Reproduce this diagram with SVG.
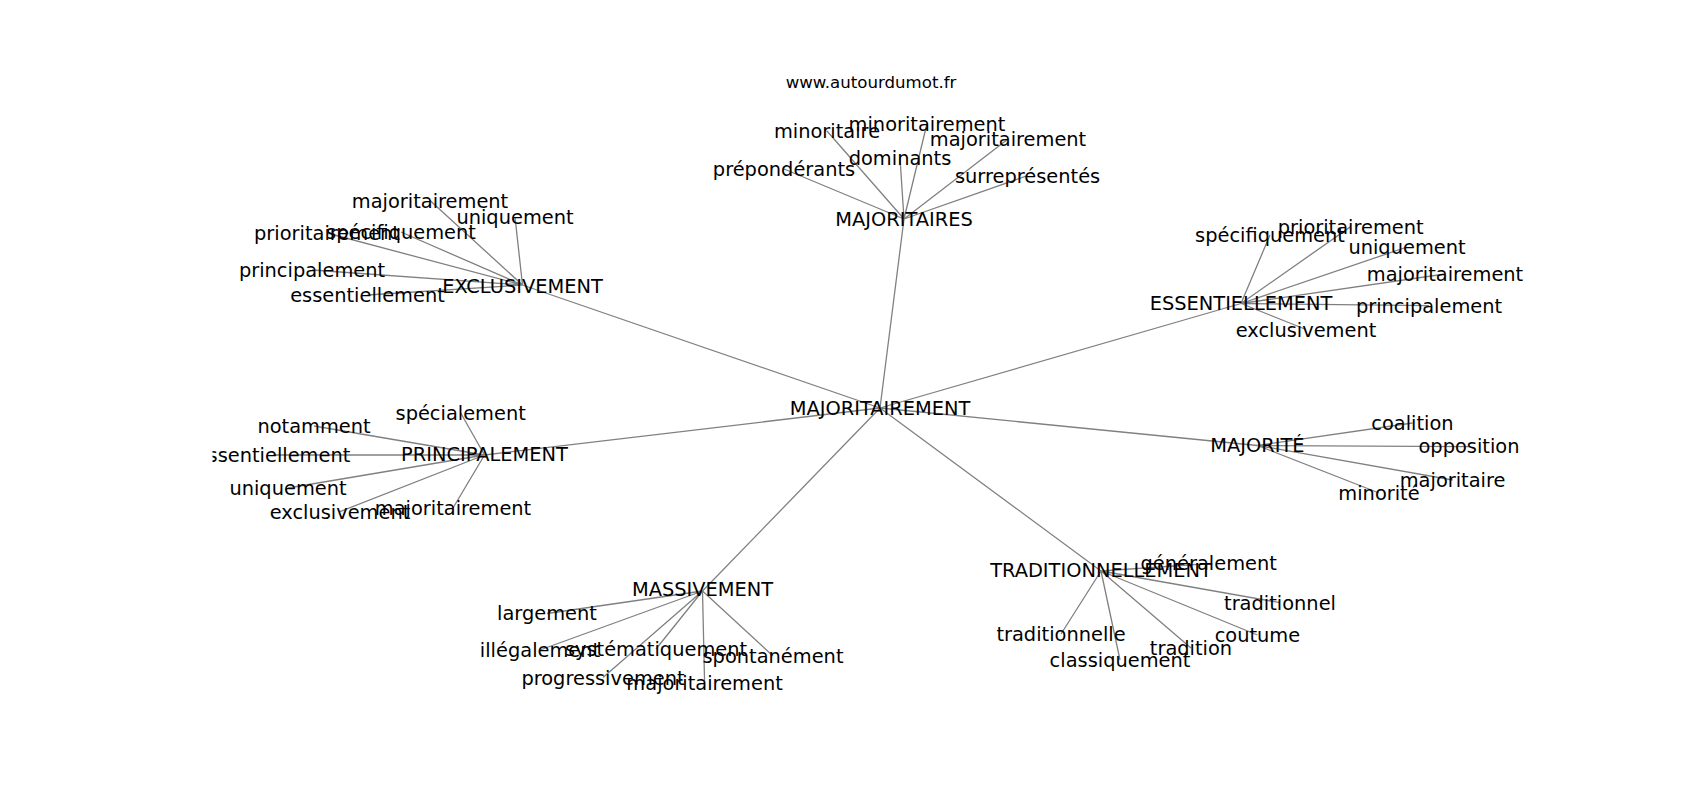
<svg xmlns="http://www.w3.org/2000/svg" width="1700" height="800" viewBox="0 0 1700 800">
<style>
.e{stroke:#808080;stroke-width:1.3;fill:none}
.t{font-family:"DejaVu Sans","Liberation Sans",sans-serif;font-size:19.4px;fill:#000;text-anchor:middle}
.h{font-family:"DejaVu Sans","Liberation Sans",sans-serif;font-size:16.6px;fill:#000;text-anchor:middle}
</style>
<defs><clipPath id="ax"><rect x="212.5" y="96" width="1317.5" height="616"/></clipPath></defs>
<rect width="1700" height="800" fill="#fff"/>
<text class="h" x="871" y="88">www.autourdumot.fr</text>
<g id="connectors">
<path class="e" d="M880 408L904 219M880 408L522.5 285M880 408L1241 303.5M880 408L484.5 455M880 408L1257.5 445.5M880 408L702.5 591M880 408L1101 571"/>
<path class="e" d="M904 219L827 131M904 219L927 123.5M904 219L1008 139M904 219L900 158M904 219L784 169M904 219L1027.6 175.6"/>
<path class="e" d="M522.5 285L430 200.5M522.5 285L515 217M522.5 285L327 233M522.5 285L401 232M522.5 285L312 270M522.5 285L367.5 295"/>
<path class="e" d="M1241 303.5L1270 235M1241 303.5L1350.7 226.6M1241 303.5L1407 247M1241 303.5L1445 274M1241 303.5L1429 305.7M1241 303.5L1306 329.5"/>
<path class="e" d="M484.5 455L460.7 413M484.5 455L314 426M484.5 455L273 455M484.5 455L288 488M484.5 455L340 511.6M484.5 455L453 508"/>
<path class="e" d="M1257.5 445.5L1412.5 423M1257.5 445.5L1469 446.6M1257.5 445.5L1452.6 480M1257.5 445.5L1379 493"/>
<path class="e" d="M702.5 591L547 613.5M702.5 591L540 650M702.5 591L656 649M702.5 591L773 656M702.5 591L603 677.5M702.5 591L704.6 683"/>
<path class="e" d="M1101 571L1208.7 563.7M1101 571L1280 602.7M1101 571L1257.4 635M1101 571L1061 634M1101 571L1191 648M1101 571L1120 660"/>
</g>
<g clip-path="url(#ax)">
<g id="n-majoritairement-center"><text class="t" x="880" y="415">MAJORITAIREMENT</text></g>
<g id="n-majoritaires"><text class="t" x="904" y="226">MAJORITAIRES</text></g>
<g id="n-exclusivement"><text class="t" x="522.5" y="293">EXCLUSIVEMENT</text></g>
<g id="n-essentiellement"><text class="t" x="1241" y="310">ESSENTIELLEMENT</text></g>
<g id="n-principalement"><text class="t" x="484.5" y="460.5">PRINCIPALEMENT</text></g>
<g id="n-majorite"><text class="t" x="1257.5" y="451.5">MAJORITÉ</text></g>
<g id="n-massivement"><text class="t" x="702.5" y="596">MASSIVEMENT</text></g>
<g id="n-traditionnellement"><text class="t" x="1101" y="576.5">TRADITIONNELLEMENT</text></g>

<g id="n-a-minoritaire"><text class="t" x="827" y="138">minoritaire</text></g>
<g id="n-a-minoritairement"><text class="t" x="927" y="130.5">minoritairement</text></g>
<g id="n-a-majoritairement"><text class="t" x="1008" y="146">majoritairement</text></g>
<g id="n-a-dominants"><text class="t" x="900" y="165">dominants</text></g>
<g id="n-a-preponderants"><text class="t" x="784" y="176">prépondérants</text></g>
<g id="n-a-surrepresentes"><text class="t" x="1027.6" y="182.6">surreprésentés</text></g>

<g id="n-b-majoritairement"><text class="t" x="430" y="207.5">majoritairement</text></g>
<g id="n-b-uniquement"><text class="t" x="515" y="224">uniquement</text></g>
<g id="n-b-prioritairement"><text class="t" x="327" y="240">prioritairement</text></g>
<g id="n-b-specifiquement"><text class="t" x="401" y="239">spécifiquement</text></g>
<g id="n-b-principalement"><text class="t" x="312" y="277">principalement</text></g>
<g id="n-b-essentiellement"><text class="t" x="367.5" y="302">essentiellement</text></g>

<g id="n-c-specifiquement"><text class="t" x="1270" y="242">spécifiquement</text></g>
<g id="n-c-prioritairement"><text class="t" x="1350.7" y="233.6">prioritairement</text></g>
<g id="n-c-uniquement"><text class="t" x="1407" y="254">uniquement</text></g>
<g id="n-c-majoritairement"><text class="t" x="1445" y="281">majoritairement</text></g>
<g id="n-c-principalement"><text class="t" x="1429" y="312.7">principalement</text></g>
<g id="n-c-exclusivement"><text class="t" x="1306" y="336.5">exclusivement</text></g>

<g id="n-d-specialement"><text class="t" x="460.7" y="420">spécialement</text></g>
<g id="n-d-notamment"><text class="t" x="314" y="433">notamment</text></g>
<g id="n-d-essentiellement"><text class="t" x="273" y="462">essentiellement</text></g>
<g id="n-d-uniquement"><text class="t" x="288" y="495">uniquement</text></g>
<g id="n-d-exclusivement"><text class="t" x="340" y="518.6">exclusivement</text></g>
<g id="n-d-majoritairement"><text class="t" x="453" y="515">majoritairement</text></g>

<g id="n-e-coalition"><text class="t" x="1412.5" y="429.5">coalition</text></g>
<g id="n-e-opposition"><text class="t" x="1469" y="453">opposition</text></g>
<g id="n-e-majoritaire"><text class="t" x="1452.6" y="487">majoritaire</text></g>
<g id="n-e-minorite"><text class="t" x="1379" y="500">minorité</text></g>

<g id="n-f-largement"><text class="t" x="547" y="620">largement</text></g>
<g id="n-f-illegalement"><text class="t" x="540" y="657">illégalement</text></g>
<g id="n-f-systematiquement"><text class="t" x="656" y="656">systématiquement</text></g>
<g id="n-f-spontanement"><text class="t" x="773" y="663">spontanément</text></g>
<g id="n-f-progressivement"><text class="t" x="603" y="684.5">progressivement</text></g>
<g id="n-f-majoritairement"><text class="t" x="704.6" y="690">majoritairement</text></g>

<g id="n-g-generalement"><text class="t" x="1208.7" y="570">généralement</text></g>
<g id="n-g-traditionnel"><text class="t" x="1280" y="609.7">traditionnel</text></g>
<g id="n-g-coutume"><text class="t" x="1257.4" y="642">coutume</text></g>
<g id="n-g-traditionnelle"><text class="t" x="1061" y="641">traditionnelle</text></g>
<g id="n-g-tradition"><text class="t" x="1191" y="655">tradition</text></g>
<g id="n-g-classiquement"><text class="t" x="1120" y="667">classiquement</text></g>
</g>
</svg>
